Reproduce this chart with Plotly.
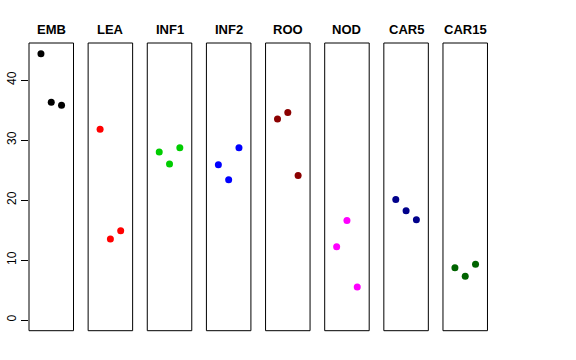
import plotly.graph_objects as go

groups = ["EMB", "LEA", "INF1", "INF2", "ROO", "NOD", "CAR5", "CAR15"]
values = [
    [44.4, 36.3, 35.8],
    [31.8, 13.5, 14.9],
    [28.0, 26.0, 28.7],
    [25.9, 23.4, 28.7],
    [33.5, 34.6, 24.1],
    [12.2, 16.6, 5.5],
    [20.1, 18.2, 16.7],
    [8.7, 7.3, 9.3],
]
colors = ["#000000", "#FF0000", "#00CD00", "#0000FF", "#8B0000", "#FF00FF", "#00008B", "#006400"]
reps = [1, 2, 3]
yticks = [0, 10, 20, 30, 40]

W, H = 576, 360
left0, step, pw = 29.0, 59.14, 44.5
top_px, bot_px = 43.0, 330.7
ymax = max(max(v) for v in values)
yr = [-0.04 * ymax, 1.04 * ymax]

fig = go.Figure()
for i, (g, v, c) in enumerate(zip(groups, values, colors)):
    xa = "x" if i == 0 else f"x{i+1}"
    fig.add_trace(go.Scatter(x=reps, y=v, mode="markers", xaxis=xa, yaxis="y",
                             marker=dict(color=c, size=7, line=dict(width=0)),
                             showlegend=False, hoverinfo="skip"))
    x0 = (left0 + i * step) / W
    x1 = (left0 + i * step + pw) / W
    key = "xaxis" if i == 0 else f"xaxis{i+1}"
    fig.layout[key] = dict(domain=[x0, x1], range=[-0.16, 4.16], showgrid=False,
                           zeroline=False, showticklabels=False, ticks="",
                           showline=False, anchor="y", fixedrange=True, automargin=False)
    fig.add_shape(type="rect", xref=f"{xa} domain", yref="y domain", x0=0, x1=1, y0=0, y1=1,
                  line=dict(color="black", width=1), fillcolor="rgba(0,0,0,0)")
    fig.add_annotation(x=(x0 + x1) / 2, y=1 - 29 / H, xref="paper", yref="paper",
                       text=f"<b>{g}</b>", showarrow=False, xanchor="center", yanchor="middle",
                       font=dict(family="Liberation Sans, Arial, sans-serif", size=13, color="black"))

fig.update_layout(
    width=W, height=H,
    margin=dict(l=0, r=0, t=0, b=0, autoexpand=False),
    plot_bgcolor="white", paper_bgcolor="white",
    yaxis=dict(domain=[(H - bot_px) / H, (H - top_px) / H], range=yr,
               tickvals=yticks, ticktext=[str(t) for t in yticks],
               ticks="outside", ticklen=7, tickcolor="black", tickwidth=1,
               tickangle=-90, showgrid=False, zeroline=False, showline=False,
               anchor="x", fixedrange=True, automargin=False,
               tickfont=dict(family="Liberation Sans, Arial, sans-serif", size=12, color="black")),
    font=dict(family="Liberation Sans, Arial, sans-serif"),
)

fig.write_html("out.html", config={"displayModeBar": False},
               post_script="document.body.style.margin='0';document.body.style.overflow='hidden';")
